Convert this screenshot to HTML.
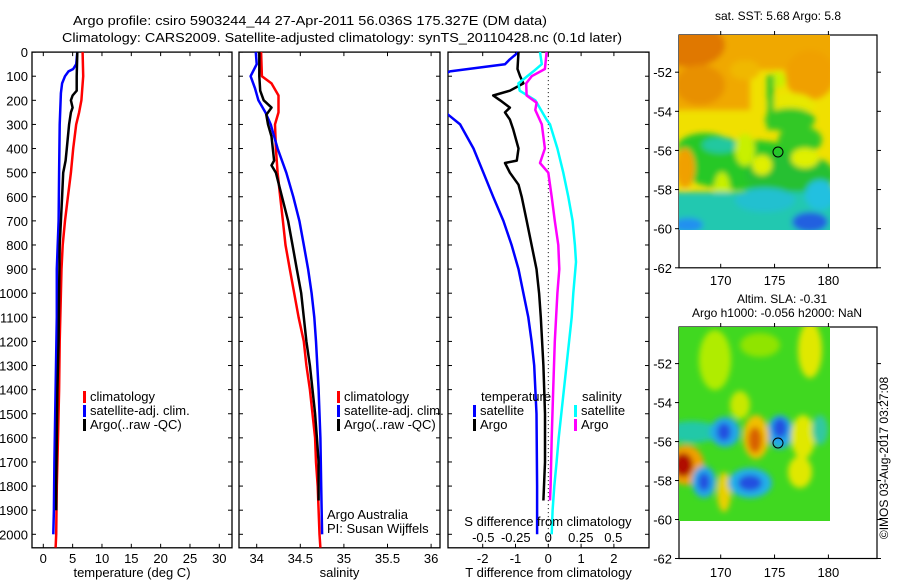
<!DOCTYPE html>
<html><head><meta charset="utf-8">
<style>
html,body{margin:0;padding:0;background:#fff;}
svg{display:block;font-family:"Liberation Sans",sans-serif;}
text{font-size:13px;fill:#000;}
</style></head>
<body>
<svg id="fig" width="900" height="580" viewBox="0 0 900 580" xmlns="http://www.w3.org/2000/svg">
<defs>
<filter id="blur" x="-20%" y="-20%" width="140%" height="140%"><feGaussianBlur stdDeviation="3"/></filter>
<clipPath id="m1clip"><rect x="679" y="35" width="151" height="195"/></clipPath>
<clipPath id="m2clip"><rect x="679" y="327" width="151" height="194"/></clipPath>
</defs>
<text x="310" y="25" text-anchor="middle" textLength="474" lengthAdjust="spacingAndGlyphs">Argo profile: csiro 5903244_44 27-Apr-2011 56.036S 175.327E (DM data)</text>
<text x="342" y="42" text-anchor="middle" textLength="560" lengthAdjust="spacingAndGlyphs">Climatology: CARS2009. Satellite-adjusted climatology: synTS_20110428.nc (0.1d later)</text>
<g id="panels"></g>
<!-- SST map -->
<g>
<text x="778" y="20" text-anchor="middle" style="font-size:12px">sat. SST: 5.68 Argo: 5.8</text>
<g clip-path="url(#m1clip)">
<rect x="679" y="35" width="151" height="195" fill="#f0e000"/>
<g filter="url(#blur)">
<rect x="670" y="25" width="170" height="45" fill="#f0a800"/>
<rect x="670" y="25" width="80" height="85" fill="#f0a800"/>
<ellipse cx="690" cy="45" rx="35" ry="22" fill="#e07800"/>
<ellipse cx="700" cy="85" rx="25" ry="20" fill="#e89000"/>
<ellipse cx="810" cy="75" rx="25" ry="25" fill="#f0a000"/>
<ellipse cx="745" cy="70" rx="15" ry="10" fill="#f0b800"/>
<ellipse cx="790" cy="105" rx="25" ry="12" fill="#e8e800"/>
<ellipse cx="778" cy="80" rx="8" ry="8" fill="#c8f000"/>
<rect x="767" y="75" width="7" height="55" fill="#30c828"/>
<ellipse cx="790" cy="120" rx="25" ry="12" fill="#30c828"/>
<ellipse cx="745" cy="165" rx="70" ry="25" fill="#28c828"/>
<ellipse cx="790" cy="175" rx="45" ry="22" fill="#28c030"/>
<ellipse cx="800" cy="140" rx="22" ry="14" fill="#30c828"/>
<ellipse cx="705" cy="148" rx="28" ry="15" fill="#28c828"/>
<ellipse cx="720" cy="145" rx="18" ry="8" fill="#20c8a0"/>
<ellipse cx="745" cy="150" rx="10" ry="16" fill="#c8f000"/>
<ellipse cx="762" cy="165" rx="10" ry="10" fill="#e0f000"/>
<ellipse cx="805" cy="158" rx="14" ry="10" fill="#e0f000"/>
<ellipse cx="722" cy="190" rx="8" ry="18" fill="#c8f000"/>
<ellipse cx="685" cy="168" rx="10" ry="20" fill="#f0a000"/>
<rect x="670" y="192" width="170" height="45" fill="#20c8b0"/>
<ellipse cx="765" cy="200" rx="30" ry="12" fill="#20c0d0"/>
<ellipse cx="820" cy="195" rx="15" ry="15" fill="#20c0e0"/>
<ellipse cx="810" cy="222" rx="18" ry="10" fill="#2060e0"/>
<ellipse cx="688" cy="225" rx="15" ry="7" fill="#2090f0"/>
</g>
</g>
<circle cx="778" cy="152" r="5" fill="none" stroke="#000"/>
</g>
<!-- SLA map -->
<g>
<text x="782" y="303" text-anchor="middle" style="font-size:12px">Altim. SLA: -0.31</text>
<text x="777" y="317" text-anchor="middle" style="font-size:12px">Argo h1000: -0.056 h2000: NaN</text>
<g clip-path="url(#m2clip)">
<rect x="679" y="327" width="151" height="194" fill="#40d820"/>
<g filter="url(#blur)">
<ellipse cx="715" cy="360" rx="16" ry="30" fill="#b0ec00"/>
<ellipse cx="810" cy="350" rx="12" ry="28" fill="#e0e800"/>
<ellipse cx="760" cy="345" rx="20" ry="12" fill="#90e400"/>
<ellipse cx="740" cy="405" rx="10" ry="14" fill="#c8e800"/>
<ellipse cx="692" cy="432" rx="28" ry="11" fill="#20c8a8"/>
<ellipse cx="725" cy="432" rx="15" ry="15" fill="#20a8e8"/>
<ellipse cx="724" cy="432" rx="7" ry="9" fill="#2050e0"/>
<ellipse cx="780" cy="432" rx="13" ry="17" fill="#20a8e8"/>
<ellipse cx="780" cy="428" rx="7" ry="10" fill="#2050e0"/>
<ellipse cx="756" cy="437" rx="13" ry="22" fill="#f0c000"/>
<ellipse cx="755" cy="440" rx="7" ry="13" fill="#d86000"/>
<ellipse cx="803" cy="437" rx="12" ry="22" fill="#e0e800"/>
<ellipse cx="800" cy="472" rx="12" ry="16" fill="#e0e800"/>
<ellipse cx="686" cy="465" rx="18" ry="20" fill="#f0a000"/>
<ellipse cx="683" cy="465" rx="10" ry="12" fill="#b01000"/>
<ellipse cx="704" cy="482" rx="12" ry="16" fill="#20a8e8"/>
<ellipse cx="704" cy="482" rx="6" ry="9" fill="#2050e0"/>
<ellipse cx="724" cy="492" rx="7" ry="20" fill="#e8d000"/>
<ellipse cx="750" cy="483" rx="22" ry="15" fill="#20b0e8"/>
<ellipse cx="750" cy="483" rx="12" ry="8" fill="#2050e0"/>
<ellipse cx="820" cy="430" rx="8" ry="15" fill="#30c8a0"/>
</g>
</g>
<circle cx="778" cy="443" r="5" fill="none" stroke="#000"/>
</g>
<text transform="translate(888,458) rotate(-90)" text-anchor="middle" style="font-size:12px">©IMOS 03-Aug-2017 03:27:08</text>
</svg>
<script>
// ---- data ----
const depthTicks = [0,100,200,300,400,500,600,700,800,900,1000,1100,1200,1300,1400,1500,1600,1700,1800,1900,2000];
const tempTicks = [0,5,10,15,20,25,30];
const salTicks = [34,34.5,35,35.5,36];
const dTTicks = [-2,-1,0,1,2];
const dSTicks = [-0.5,-0.25,0,0.25,0.5];
const dSTickLabels = ["-0.5","-0.25","0","0.25","0.5"];

const tClimDepth = [0,100,200,250,300,400,500,600,700,800,900,1000,1200,1400,1600,1800,2000,2056];
const tClim = [6.7,6.8,6.5,6.1,5.6,5.1,4.7,4.2,3.7,3.3,3.1,3.0,2.8,2.7,2.5,2.3,2.2,2.1];
const tSatDepth = [0,50,70,80,100,130,170,300,500,700,900,1100,1400,1700,1900,2000];
const tSat = [5.8,5.6,5.1,4.3,3.7,3.2,3.0,2.8,2.7,2.6,2.3,2.3,2.1,1.9,1.8,1.7];
const tArgoDepth = [0,100,160,180,200,230,250,300,400,450,500,600,700,800,1000,1200,1400,1600,1800,1900];
const tArgo = [5.8,5.7,5.7,5.0,4.7,5.0,4.7,4.4,4.0,3.8,3.4,3.2,3.0,2.8,2.7,2.6,2.4,2.3,2.2,2.2];

const sClimDepth = [0,100,130,180,250,300,400,500,600,700,800,900,1000,1100,1200,1300,1400,1500,1600,1700,1800,2000,2056];
const sClim = [34.05,34.06,34.17,34.25,34.25,34.21,34.22,34.24,34.27,34.30,34.33,34.38,34.43,34.48,34.54,34.57,34.61,34.64,34.67,34.68,34.70,34.72,34.73];
const sSatDepth = [0,50,100,150,200,250,300,400,500,600,700,800,900,1000,1100,1200,1400,1600,1800,2000];
const sSat = [33.99,34.0,33.93,33.98,34.02,34.10,34.16,34.24,34.34,34.42,34.49,34.54,34.59,34.63,34.66,34.68,34.71,34.73,34.74,34.75];
const sArgoDepth = [0,100,160,200,230,260,300,350,450,470,500,600,700,800,900,1000,1100,1200,1300,1400,1500,1600,1700,1860];
const sArgo = [34.03,34.03,34.04,34.08,34.17,34.11,34.13,34.17,34.20,34.17,34.22,34.29,34.36,34.41,34.46,34.51,34.54,34.57,34.61,34.64,34.67,34.69,34.71,34.71];

const dTSatDepth = [0,30,50,60,80,120,200,260,300,400,500,600,700,800,900,1000,1100,1200,1300,1500,1800,2000];
const dTSat = [-0.91,-1.17,-1.32,-1.88,-3.0,-3.6,-3.6,-3.05,-2.69,-2.28,-1.98,-1.68,-1.37,-1.12,-0.91,-0.76,-0.61,-0.51,-0.43,-0.36,-0.34,-0.34];
const dTArgoDepth = [0,70,100,130,160,180,200,230,250,280,320,400,450,460,500,550,600,700,800,900,1000,1100,1300,1500,1700,1860];
const dTArgo = [-0.91,-0.94,-0.86,-0.76,-1.17,-1.68,-1.47,-1.17,-1.32,-1.17,-1.07,-0.91,-0.96,-1.32,-1.17,-0.91,-0.81,-0.66,-0.51,-0.36,-0.28,-0.23,-0.15,-0.10,-0.10,-0.15];
const dSSatDepth = [0,50,80,130,160,200,280,300,400,500,600,700,800,870,1000,1100,1200,1300,1400,1500,1600,1700,1800,1900,2000];
const dSSat = [-0.064,-0.05,-0.115,-0.23,-0.22,-0.10,-0.013,0.013,0.07,0.115,0.154,0.187,0.205,0.213,0.192,0.18,0.16,0.14,0.12,0.10,0.08,0.064,0.046,0.033,0.026];
const dSArgoDepth = [0,70,100,130,180,210,240,300,400,460,500,600,700,800,900,1000,1100,1200,1400,1600,1800,1860];
const dSArgo = [-0.013,-0.026,-0.128,-0.17,-0.167,-0.09,-0.10,-0.05,-0.026,-0.064,0,0.026,0.05,0.077,0.085,0.07,0.06,0.05,0.038,0.026,0.018,0.013];

const NS='http://www.w3.org/2000/svg';
const root=document.getElementById('panels');
function el(tag,attrs,parent){const e=document.createElementNS(NS,tag);for(const k in attrs)e.setAttribute(k,attrs[k]);(parent||root).appendChild(e);return e;}
function txt(x,y,s,anchor,parent,size){const t=el('text',{x:x,y:y,'text-anchor':anchor||'middle'},parent);if(size)t.style.fontSize=size+'px';t.textContent=s;return t;}

const Y0=52.1, Y1=547.8, DPX=0.2411;
function yD(d){return Y0+d*DPX;}

function panel(name,x0,x1,xfun,ticks,labels,xlabel,idx){
  const g=el('g',{});
  
  
  const cp=el('clipPath',{id:'clip'+idx},g);
  el('rect',{x:x0,y:Y0-1,width:x1-x0,height:Y1-Y0+1},cp);
  const frame=el('rect',{x:x0,y:Y0,width:x1-x0,height:Y1-Y0,fill:'none',stroke:'#000','stroke-width':1.3},g);
  
  
  depthTicks.forEach(d=>{
    el('line',{x1:x0,x2:x0+4,y1:yD(d),y2:yD(d),stroke:'#000'},g);
    el('line',{x1:x1,x2:x1-4,y1:yD(d),y2:yD(d),stroke:'#000'},g);
    if(idx===0){const t=txt(x0-4,yD(d)+5,String(d),'end',g);}
  });
  ticks.forEach((v,i)=>{
    const x=xfun(v);
    el('line',{x1:x,x2:x,y1:Y1,y2:Y1-4,stroke:'#000'},g);
    el('line',{x1:x,x2:x,y1:Y0,y2:Y0+4,stroke:'#000'},g);
    const t=txt(x,563,labels[i],'middle',g);
    
    
  });
  const xl=txt((x0+x1)/2,577,xlabel,'middle',g);
  
  
  const lines=el('g',{'clip-path':'url(#clip'+idx+')'},g);
  return {g:g,lines:lines};
}
function series(p,name,depths,vals,xfun,color){
  const pts=depths.map((d,i)=>xfun(vals[i]).toFixed(1)+','+yD(d).toFixed(1)).join(' ');
  const pl=el('polyline',{points:pts,fill:'none',stroke:color,'stroke-width':2.5,'stroke-linejoin':'round'},p.lines);
  
  
}
function legend(parent,x,y,color,label){
  const r=el('rect',{x:x,y:y-10,width:3,height:12,fill:color},parent);
  const t=txt(x+7,y,label,'start',parent);
  const g=el('g',{},parent);g.appendChild(r);g.appendChild(t);
  
  
}

// Panel 1: temperature
const xT=v=>43.3+v*5.867;
const p1=panel('temperature-panel',32,232,xT,tempTicks,tempTicks.map(String),'temperature (deg C)',0);
series(p1,'temp-climatology-line',tClimDepth,tClim,xT,'#ff0000');
series(p1,'temp-satellite-line',tSatDepth,tSat,xT,'#0000ff');
series(p1,'temp-argo-line',tArgoDepth,tArgo,xT,'#000000');
legend(p1.g,83,401,'#ff0000','climatology');
legend(p1.g,83,415,'#0000ff','satellite-adj. clim.');
legend(p1.g,83,429,'#000000','Argo(..raw -QC)');

// Panel 2: salinity
const xS=v=>256.7+(v-34)*87.2;
const p2=panel('salinity-panel',239,440,xS,salTicks,salTicks.map(String),'salinity',1);
series(p2,'sal-climatology-line',sClimDepth,sClim,xS,'#ff0000');
series(p2,'sal-satellite-line',sSatDepth,sSat,xS,'#0000ff');
series(p2,'sal-argo-line',sArgoDepth,sArgo,xS,'#000000');
legend(p2.g,337,401,'#ff0000','climatology');
legend(p2.g,337,415,'#0000ff','satellite-adj. clim.');
legend(p2.g,337,429,'#000000','Argo(..raw -QC)');
const a1=txt(327,519,'Argo Australia','start',p2.g);
const a2=txt(327,533,'PI: Susan Wijffels','start',p2.g);

// Panel 3: differences
const xDT=v=>548.3+v*32.8;
const xDS=v=>548.3+v*130;
const p3=panel('difference-panel',448,649,xDT,dTTicks,dTTicks.map(String),'T difference from climatology',2);
el('line',{x1:548.3,x2:548.3,y1:Y0,y2:Y1,stroke:'#000','stroke-dasharray':'1,3'},p3.lines);
series(p3,'dT-satellite-line',dTSatDepth,dTSat,xDT,'#0000ff');
series(p3,'dT-argo-line',dTArgoDepth,dTArgo,xDT,'#000000');
series(p3,'dS-satellite-line',dSSatDepth,dSSat,xDS,'#00ffff');
series(p3,'dS-argo-line',dSArgoDepth,dSArgo,xDS,'#ff00ff');
dSTicks.forEach((v,i)=>{const t=txt(xDS(v),542,dSTickLabels[i],'middle',p3.g);});
const st=txt(548,526,'S difference from climatology','middle',p3.g);
const lt=txt(481,401,'temperature','start',p3.g);
const ls=txt(582,401,'salinity','start',p3.g);
legend(p3.g,473,415,'#0000ff','satellite');
legend(p3.g,473,429,'#000000','Argo');
legend(p3.g,574,415,'#00ffff','satellite');
legend(p3.g,574,429,'#ff00ff','Argo');

// Map axes
const lonTicks=[170,175,180];
const latTicks=[-52,-54,-56,-58,-60,-62];
function mapAxes(name,top,yLat52,pxLat,bottom,labelY){
  const g=el('g',{});
  
  
  el('rect',{x:679,y:top,width:198,height:bottom-top,fill:'none',stroke:'#000','stroke-width':1.2},g);
  const xL=v=>720.7+(v-170)*10.77;
  lonTicks.forEach(v=>{
    el('line',{x1:xL(v),x2:xL(v),y1:top,y2:top-4,stroke:'#000'},g);
    el('line',{x1:xL(v),x2:xL(v),y1:bottom,y2:bottom-4,stroke:'#000'},g);
    const t=txt(xL(v),labelY,String(v),'middle',g);
    
    
  });
  latTicks.forEach(v=>{
    const y=yLat52+(-52-v)*pxLat;
    el('line',{x1:877,x2:881,y1:y,y2:y,stroke:'#000'},g);
    el('line',{x1:679,x2:675,y1:y,y2:y,stroke:'#000'},g);
    const t=txt(672,y+5,String(v),'end',g);
    
    
  });
}
mapAxes('sst-map-axes',35,72.2,19.56,267.8,285);
mapAxes('sla-map-axes',327,363.6,19.49,558.5,577);
</script>
</body></html>
